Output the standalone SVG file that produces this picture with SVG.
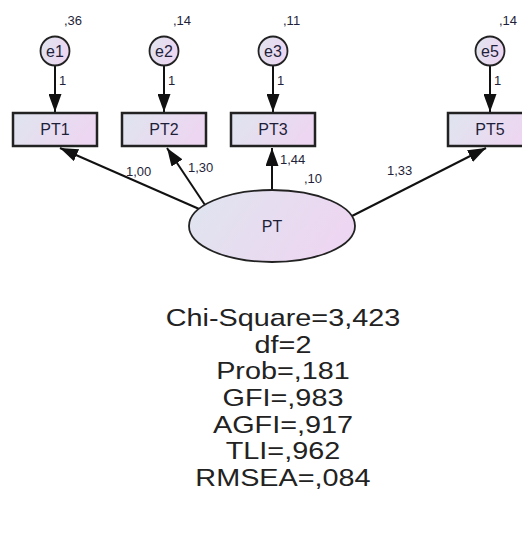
<svg xmlns="http://www.w3.org/2000/svg" width="522" height="533" viewBox="0 0 522 533">
<defs>
<linearGradient id="g" x1="0" y1="0" x2="1" y2="0.3">
<stop offset="0" stop-color="#dfe5ef"/>
<stop offset="1" stop-color="#edd6f1"/>
</linearGradient>
<marker id="ah" markerUnits="userSpaceOnUse" markerWidth="18" markerHeight="13" refX="18" refY="6.5" orient="auto">
<path d="M0,0 L18,6.5 L0,13 z" fill="#111"/>
</marker>
<style>
text{font-family:"Liberation Sans",Arial,sans-serif;fill:#1f1f3a}
.lbl{font-size:16px;text-anchor:middle}
.num{font-size:13px}
.st{font-size:24px;text-anchor:middle;fill:#222}
.box{fill:url(#g);stroke:#222;stroke-width:2.5}
.err{fill:url(#g);stroke:#222;stroke-width:1.8}
.ln{stroke:#111;stroke-width:2;fill:none;marker-end:url(#ah)}
</style>
</defs>
<rect width="522" height="533" fill="#fff"/>
<g id="connectors">
<line class="ln" x1="55" y1="66" x2="55" y2="112"/>
<line class="ln" x1="164" y1="66" x2="164" y2="112"/>
<line class="ln" x1="273" y1="66" x2="273" y2="112"/>
<line class="ln" x1="490" y1="66" x2="490" y2="112"/>
<line class="ln" x1="206" y1="212" x2="60" y2="148"/>
<line class="ln" x1="205" y1="205" x2="167" y2="148"/>
<line class="ln" x1="272" y1="190" x2="272" y2="148"/>
<line class="ln" x1="352" y1="216" x2="486" y2="148"/>
</g>
<g id="e1"><circle class="err" cx="55" cy="51" r="14.5"/><text class="lbl" x="55" y="57">e1</text><text class="num" x="64" y="25">,36</text><text class="num" x="59" y="85">1</text></g>
<g id="e2"><circle class="err" cx="164" cy="51" r="14.5"/><text class="lbl" x="164" y="57">e2</text><text class="num" x="173" y="25">,14</text><text class="num" x="168" y="85">1</text></g>
<g id="e3"><circle class="err" cx="273" cy="51" r="14.5"/><text class="lbl" x="273" y="57">e3</text><text class="num" x="283" y="25">,11</text><text class="num" x="277" y="85">1</text></g>
<g id="e5"><circle class="err" cx="490" cy="51" r="14.5"/><text class="lbl" x="490" y="57">e5</text><text class="num" x="499" y="25">,14</text><text class="num" x="494" y="85">1</text></g>
<g id="PT1"><rect class="box" x="13" y="113" width="84" height="33"/><text class="lbl" x="55" y="135">PT1</text></g>
<g id="PT2"><rect class="box" x="122" y="113" width="84" height="33"/><text class="lbl" x="164" y="135">PT2</text></g>
<g id="PT3"><rect class="box" x="231" y="113" width="84" height="33"/><text class="lbl" x="273" y="135">PT3</text></g>
<g id="PT5"><rect class="box" x="448" y="113" width="84" height="33"/><text class="lbl" x="490" y="135">PT5</text></g>
<g id="PT"><ellipse class="err" cx="272" cy="226" rx="83" ry="36"/><text class="lbl" x="272" y="232">PT</text></g>
<g id="paths">
<text class="num" x="126" y="176">1,00</text>
<text class="num" x="188" y="172">1,30</text>
<text class="num" x="280" y="164">1,44</text>
<text class="num" x="304" y="183">,10</text>
<text class="num" x="387" y="175">1,33</text>
</g>
<g id="stats" transform="translate(283,0) scale(1.2,1) translate(-283,0)">
<text class="st" x="283" y="326">Chi-Square=3,423</text>
<text class="st" x="283" y="353">df=2</text>
<text class="st" x="283" y="379">Prob=,181</text>
<text class="st" x="283" y="406">GFI=,983</text>
<text class="st" x="283" y="433">AGFI=,917</text>
<text class="st" x="283" y="459">TLI=,962</text>
<text class="st" x="283" y="486">RMSEA=,084</text>
</g>
</svg>
